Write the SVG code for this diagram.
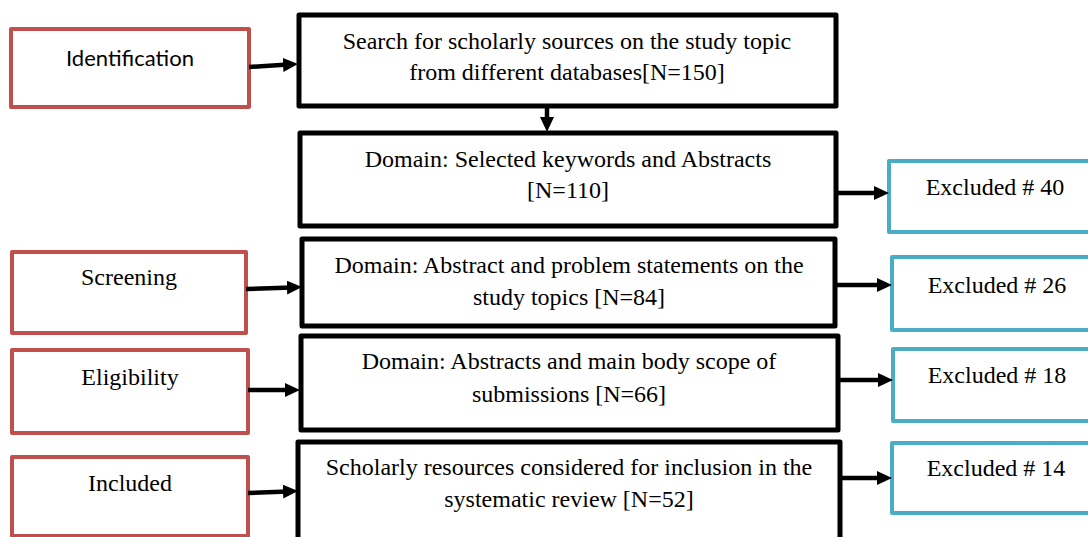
<svg xmlns="http://www.w3.org/2000/svg" width="1088" height="537" viewBox="0 0 1088 537">
<style>
.bg{fill:#ffffff}
.stage{fill:#ffffff;stroke:#C0504D;stroke-width:4;stroke-linejoin:round}
.main{fill:#ffffff;stroke:#000000;stroke-width:5;stroke-linejoin:round}
.excl{fill:#ffffff;stroke:#4BACC6;stroke-width:4;stroke-linejoin:round}
.t{font-family:"Liberation Serif","Times New Roman",serif;font-size:24px;fill:#000000;text-anchor:middle}
.s{font-family:Lato,"Liberation Sans",sans-serif;font-size:22px;fill:#000000;text-anchor:middle}
.c{stroke:#000000;stroke-width:4.5;fill:none}
</style>
<defs>
<marker id="ah" markerUnits="userSpaceOnUse" markerWidth="16" markerHeight="15" refX="5" refY="7" orient="auto">
<path d="M0,0 L15,7 L0,14 z" fill="#000000"/>
</marker>
</defs>
<rect class="bg" x="0" y="0" width="1088" height="537"/>

<g id="identification">
<rect class="stage" x="11" y="29" width="238" height="78"/>
<text class="s" x="130" y="66" textLength="128" lengthAdjust="spacingAndGlyphs">Identification</text>
</g>
<g id="screening">
<rect class="stage" x="12" y="252" width="234" height="81"/>
<text class="t" x="129" y="285">Screening</text>
</g>
<g id="eligibility">
<rect class="stage" x="12" y="350" width="236" height="83"/>
<text class="t" x="130" y="385">Eligibility</text>
</g>
<g id="included">
<rect class="stage" x="12" y="457" width="236" height="79"/>
<text class="t" x="130" y="491">Included</text>
</g>

<g id="search">
<rect class="main" x="299" y="15" width="537" height="91"/>
<text class="t" x="567" y="49">Search for scholarly sources on the study topic</text>
<text class="t" x="567" y="80">from different databases[N=150]</text>
</g>
<g id="domain1">
<rect class="main" x="300" y="133" width="536" height="93"/>
<text class="t" x="568" y="167">Domain: Selected keywords and Abstracts</text>
<text class="t" x="568" y="198">[N=110]</text>
</g>
<g id="domain2">
<rect class="main" x="302" y="239" width="533" height="87"/>
<text class="t" x="569" y="273">Domain: Abstract and problem statements on the</text>
<text class="t" x="569" y="305">study topics [N=84]</text>
</g>
<g id="domain3">
<rect class="main" x="301" y="336" width="537" height="94"/>
<text class="t" x="569" y="369">Domain: Abstracts and main body scope of</text>
<text class="t" x="569" y="402">submissions [N=66]</text>
</g>
<g id="domain4">
<rect class="main" x="298" y="442" width="542" height="105"/>
<text class="t" x="569" y="475">Scholarly resources considered for inclusion in the</text>
<text class="t" x="569" y="507">systematic review [N=52]</text>
</g>

<g id="excluded40">
<rect class="excl" x="889" y="161" width="211" height="71"/>
<text class="t" x="995" y="195">Excluded # 40</text>
</g>
<g id="excluded26">
<rect class="excl" x="892" y="257" width="208" height="73"/>
<text class="t" x="997" y="293">Excluded # 26</text>
</g>
<g id="excluded18">
<rect class="excl" x="893" y="349" width="207" height="72"/>
<text class="t" x="997" y="383">Excluded # 18</text>
</g>
<g id="excluded14">
<rect class="excl" x="892" y="443" width="208" height="70"/>
<text class="t" x="996" y="476">Excluded # 14</text>
</g>

<g id="connectors">
<line class="c" x1="249" y1="67" x2="288" y2="64.6" marker-end="url(#ah)"/>
<line class="c" x1="547" y1="106" x2="547" y2="122" marker-end="url(#ah)"/>
<line class="c" x1="246" y1="289" x2="292" y2="287.4" marker-end="url(#ah)"/>
<line class="c" x1="248" y1="390" x2="290" y2="390" marker-end="url(#ah)"/>
<line class="c" x1="248" y1="493" x2="288" y2="491.4" marker-end="url(#ah)"/>
<line class="c" x1="836" y1="193" x2="879" y2="193" marker-end="url(#ah)"/>
<line class="c" x1="835" y1="285" x2="882" y2="285" marker-end="url(#ah)"/>
<line class="c" x1="838" y1="380" x2="883" y2="380" marker-end="url(#ah)"/>
<line class="c" x1="840" y1="478" x2="882" y2="478" marker-end="url(#ah)"/>
</g>
</svg>
